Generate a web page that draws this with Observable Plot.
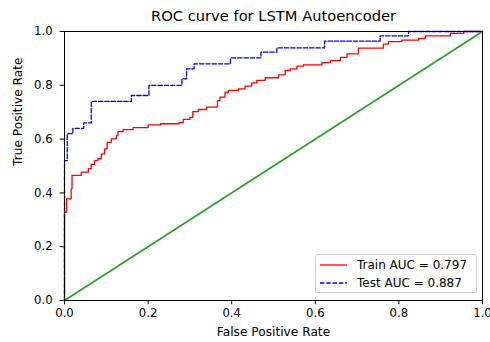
<!DOCTYPE html>
<html>
<head>
<meta charset="utf-8">
<script src="https://cdn.jsdelivr.net/npm/d3@7"></script>
<script src="https://cdn.jsdelivr.net/npm/@observablehq/plot@0.6"></script>
<style>
  body { margin: 0; background: #fff; }
  #wrap { position: relative; width: 490px; height: 342px; font-family: "DejaVu Sans", sans-serif; }
  #legend {
    position: absolute; left: 315px; top: 254px; width: 162px; height: 39px;
    border: 1px solid #d0d0d0; border-radius: 3px; background: rgba(255,255,255,0.8);
    box-sizing: border-box; font-size: 12px; color: #000;
  }
  .row { position: absolute; left: 0; height: 16px; display: flex; align-items: center; white-space: nowrap; }
  .row svg { margin-left: 4px; margin-right: 10px; }
</style>
</head>
<body>
<div id="wrap"></div>
<script>
// Train ROC (step corners: value reached after each vertical rise)
const trainFpr = [0, 0, 0.005, 0.016, 0.018, 0.04, 0.057, 0.064, 0.072, 0.08, 0.088, 0.096, 0.102, 0.112, 0.124, 0.128, 0.14, 0.164, 0.2, 0.23, 0.274, 0.284, 0.3, 0.307, 0.32, 0.34, 0.366, 0.372, 0.384, 0.392, 0.416, 0.432, 0.448, 0.46, 0.48, 0.512, 0.528, 0.54, 0.556, 0.571, 0.616, 0.636, 0.66, 0.676, 0.703, 0.763, 0.775, 0.807, 0.847, 0.863, 0.923, 0.955, 1];
const trainTpr = [0, 0.328, 0.378, 0.415, 0.465, 0.477, 0.49, 0.506, 0.52, 0.527, 0.545, 0.564, 0.588, 0.601, 0.613, 0.628, 0.635, 0.643, 0.653, 0.657, 0.661, 0.673, 0.681, 0.702, 0.71, 0.719, 0.743, 0.756, 0.774, 0.781, 0.787, 0.797, 0.809, 0.818, 0.828, 0.839, 0.855, 0.861, 0.871, 0.876, 0.884, 0.892, 0.904, 0.917, 0.938, 0.953, 0.962, 0.968, 0.974, 0.984, 0.993, 1.0, 1];
// Test ROC
const testFpr = [0, 0, 0.0065, 0.02, 0.046, 0.064, 0.16, 0.202, 0.281, 0.292, 0.31, 0.397, 0.47, 0.508, 0.622, 0.755, 0.823, 1];
const testTpr = [0, 0.52, 0.62, 0.64, 0.66, 0.74, 0.762, 0.80, 0.824, 0.861, 0.88, 0.902, 0.923, 0.939, 0.964, 0.984, 1.0, 1];
// Chance line
const diagX = [0, 1];
const diagY = [0, 1];
const ticks = [0, 0.2, 0.4, 0.6, 0.8, 1.0];
const titleText = "ROC curve for LSTM Autoencoder";
const xLabel = "False Positive Rate";
const yLabel = "True Positive Rate";
const legendLabels = ["Train AUC = 0.797", "Test AUC = 0.887"];

const train = trainFpr.map((x, i) => ({x, y: trainTpr[i]}));
const test = testFpr.map((x, i) => ({x, y: testTpr[i]}));
const diag = diagX.map((x, i) => ({x, y: diagY[i]}));

const chart = Plot.plot({
  width: 490,
  height: 342,
  marginLeft: 64,
  marginRight: 8,
  marginTop: 31,
  marginBottom: 42,
  style: {fontFamily: "DejaVu Sans, sans-serif", fontSize: "12px", color: "#000", background: "#fff"},
  x: {domain: [0, 1]},
  y: {domain: [0, 1]},
  marks: [
    Plot.axisX({ticks, tickFormat: d3.format(".1f"), tickSize: 4.3, tickPadding: 4, label: null, fontSize: 11.7, strokeWidth: 1}),
    Plot.axisY({ticks, tickFormat: d3.format(".1f"), tickSize: 4.3, tickPadding: 7.5, label: null, fontSize: 11.7, strokeWidth: 1}),
    Plot.line(train, {x: "x", y: "y", curve: "step-after", stroke: "#ff0000", strokeWidth: 1.3}),
    Plot.line(test, {x: "x", y: "y", curve: "step-after", stroke: "#0000ff", strokeWidth: 1.3, strokeDasharray: "4.4,1.9"}),
    Plot.line(diag, {x: "x", y: "y", stroke: "#2ca02c", strokeWidth: 1.8}),
    Plot.frame({stroke: "#000", strokeWidth: 1}),
    Plot.text([titleText], {frameAnchor: "top", lineAnchor: "middle", dy: -15, fontSize: 14.7, fill: "#000"}),
    Plot.text([xLabel], {frameAnchor: "bottom", lineAnchor: "middle", dy: 32, fontSize: 12.2, fill: "#000"}),
    Plot.text([yLabel], {frameAnchor: "left", lineAnchor: "middle", dx: -46, rotate: -90, fontSize: 12.2, fill: "#000"})
  ]
});
const wrap = document.getElementById("wrap");
wrap.appendChild(chart);

const legend = document.createElement("div");
legend.id = "legend";
legend.innerHTML = `
  <div class="row" style="top:2px"><svg width="27" height="4"><line x1="0" y1="2" x2="27" y2="2" stroke="#ff0000" stroke-width="1.3"/></svg><span>${legendLabels[0]}</span></div>
  <div class="row" style="top:20px"><svg width="27" height="4"><line x1="0" y1="2" x2="27" y2="2" stroke="#0000ff" stroke-width="1.3" stroke-dasharray="4.4,1.9"/></svg><span>${legendLabels[1]}</span></div>`;
wrap.appendChild(legend);
</script>
</body>
</html>
